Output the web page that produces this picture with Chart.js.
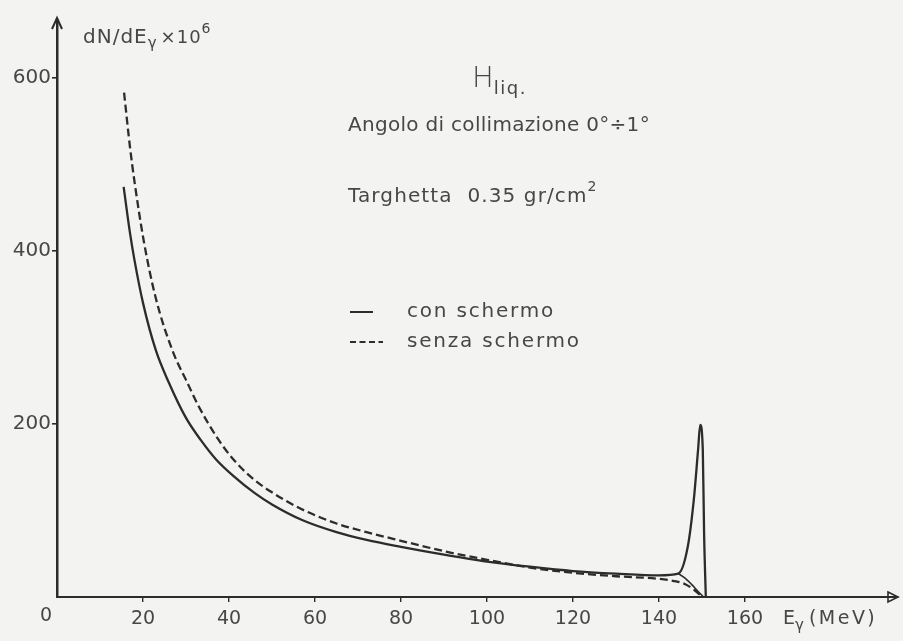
<!DOCTYPE html>
<html>
<head>
<meta charset="utf-8">
<script src="https://cdn.jsdelivr.net/npm/chart.js@4.4.1/dist/chart.umd.min.js"></script>
<style>
  html, body { margin: 0; padding: 0; background: #f3f3f1; }
  #wrap { width: 903px; height: 641px; position: relative; }
</style>
</head>
<body>
<div id="wrap"><canvas id="c" width="903" height="641"></canvas></div>
<script>
// Photon spectrum, liquid hydrogen target: dN/dE (x10^6) vs E (MeV)
const xTicks = [20, 40, 60, 80, 100, 120, 140, 160];
const yTicks = [200, 400, 600];

// "con schermo" (with shield) – solid curve, ends in the peak near 150 MeV
const conE = [15.5, 17, 18, 20, 23, 26, 30, 33.5, 37, 41, 46, 50, 57, 65, 72, 80, 90, 100, 110, 120, 130, 140, 144.5, 146.7, 148.1, 149.1, 149.6, 150.2, 150.5, 150.9];
const conN = [474, 420, 390, 340, 285, 248, 207, 181, 159, 140, 120, 107, 89, 75, 66, 58, 49, 41, 35, 30, 27, 25, 27, 58, 112, 170, 199, 170, 74, 0];

// continuation of the solid curve below the peak, down to the end point
const conTailE = [144.5, 146, 147.7, 149, 150.4];
const conTailN = [27, 22, 14, 7, 0];

// "senza schermo" (without shield) – dashed curve
const senzaE = [15.6, 17, 18, 20.2, 23, 27, 30, 33, 37.4, 41.2, 46, 50, 56.7, 65, 72, 80, 90, 100, 110, 120, 130, 140, 144, 146, 148, 149.2, 150.2];
const senzaN = [583, 519, 481, 411, 345, 283, 251, 220, 183, 158, 135, 121, 102, 85, 75, 65, 53, 43, 34, 28, 24, 21, 18, 15, 9, 4, 0];

const ink = '#2c2c2c';
const textInk = '#474747';
const FONT = '"DejaVu Sans", sans-serif';

const pts = (xs, ys) => xs.map((x, i) => ({ x: x, y: ys[i] }));

// draws a sequence of text runs (for sub/superscripts), left to right
function drawRuns(ctx, x, y, runs) {
  let cx = x;
  runs.forEach(r => {
    ctx.font = (r.weight || 'normal') + ' ' + r.size + 'px ' + FONT;
    ctx.letterSpacing = (r.ls || 0) + 'px';
    ctx.fillText(r.t, cx, y + (r.dy || 0));
    cx += ctx.measureText(r.t).width + (r.gap || 0);
  });
  ctx.letterSpacing = '0px';
}

const annotations = {
  id: 'annotations',
  afterDraw(chart) {
    const ctx = chart.ctx;
    const xs = chart.scales.x, ys = chart.scales.y;
    const x0 = xs.getPixelForValue(0), y0 = ys.getPixelForValue(0);
    const top = chart.chartArea.top, right = chart.chartArea.right;
    ctx.save();
    ctx.strokeStyle = ink;
    ctx.fillStyle = textInk;

    // arrow on the vertical axis
    ctx.lineWidth = 2;
    ctx.beginPath();
    ctx.moveTo(x0 - 5, top + 9);
    ctx.lineTo(x0, top - 2);
    ctx.lineTo(x0 + 5, top + 9);
    ctx.stroke();

    // open arrow head on the horizontal axis
    ctx.lineWidth = 1.6;
    ctx.beginPath();
    ctx.moveTo(right - 10, y0 - 5);
    ctx.lineTo(right, y0);
    ctx.lineTo(right - 10, y0 + 5);
    ctx.closePath();
    ctx.stroke();

    ctx.textBaseline = 'alphabetic';
    ctx.textAlign = 'left';

    // origin label
    drawRuns(ctx, x0 - 17, y0 + 24, [{ t: '0', size: 19 }]);

    // axis titles
    drawRuns(ctx, 83, 43, [
      { t: 'dN/dE', size: 20, ls: 1 },
      { t: 'γ', size: 15, dy: 5, gap: 4 },
      { t: '×10', size: 18, ls: 1 },
      { t: '6', size: 14, dy: -10 }
    ]);
    drawRuns(ctx, 783, 624, [
      { t: 'E', size: 19 },
      { t: 'γ', size: 15, dy: 6, gap: 5 },
      { t: '(MeV)', size: 19, ls: 2.5 }
    ]);

    // title and run conditions
    drawRuns(ctx, 472, 87, [
      { t: 'H', size: 29, weight: '200' },
      { t: 'liq.', size: 18, dy: 7, ls: 1.5 }
    ]);
    drawRuns(ctx, 348, 131, [{ t: 'Angolo di collimazione 0°÷1°', size: 20, ls: 0.3 }]);
    drawRuns(ctx, 348, 202, [
      { t: 'Targhetta  0.35 gr/cm', size: 20, ls: 1.1 },
      { t: '2', size: 14, dy: -11 }
    ]);

    // legend
    ctx.lineWidth = 2;
    ctx.beginPath();
    ctx.moveTo(350, 312); ctx.lineTo(373, 312);
    ctx.stroke();
    ctx.setLineDash([6, 3.5]);
    ctx.beginPath();
    ctx.moveTo(350, 342); ctx.lineTo(383, 342);
    ctx.stroke();
    ctx.setLineDash([]);
    ctx.textBaseline = 'middle';
    drawRuns(ctx, 407, 312, [{ t: 'con schermo', size: 20, ls: 1.8 }]);
    drawRuns(ctx, 407, 342, [{ t: 'senza schermo', size: 20, ls: 1.8 }]);

    ctx.restore();
  }
};

new Chart(document.getElementById('c'), {
  type: 'line',
  data: {
    datasets: [
      {
        label: 'con schermo',
        data: pts(conE, conN),
        borderColor: ink,
        borderWidth: 2.3,
        pointRadius: 0,
        cubicInterpolationMode: 'monotone',
        fill: false
      },
      {
        label: 'con schermo (coda)',
        data: pts(conTailE, conTailN),
        borderColor: ink,
        borderWidth: 1.6,
        pointRadius: 0,
        cubicInterpolationMode: 'monotone',
        fill: false
      },
      {
        label: 'senza schermo',
        data: pts(senzaE, senzaN),
        borderColor: ink,
        borderWidth: 2.3,
        borderDash: [8, 4],
        pointRadius: 0,
        cubicInterpolationMode: 'monotone',
        fill: false
      }
    ]
  },
  options: {
    responsive: false,
    animation: false,
    layout: { padding: { left: 0, top: 20, right: 5, bottom: 0 } },
    plugins: { legend: { display: false }, tooltip: { enabled: false } },
    scales: {
      x: {
        type: 'linear',
        min: 0,
        max: 195.6,
        afterFit: s => { s.height = 44; },
        afterBuildTicks: s => { s.ticks = xTicks.map(v => ({ value: v })); },
        ticks: {
          font: { family: FONT, size: 19 },
          color: textInk,
          padding: 6,
          maxRotation: 0,
          autoSkip: false
        },
        grid: { drawOnChartArea: false, tickLength: 5, color: ink, lineWidth: 1.4 },
        border: { display: true, color: ink, width: 2 }
      },
      y: {
        type: 'linear',
        min: 0,
        max: 667,
        afterFit: s => { s.width = 57; },
        afterBuildTicks: s => { s.ticks = yTicks.map(v => ({ value: v })); },
        ticks: {
          font: { family: FONT, size: 20 },
          color: textInk,
          padding: 1
        },
        grid: { drawOnChartArea: false, tickLength: 5, color: ink, lineWidth: 1.6 },
        border: { display: true, color: ink, width: 2.5 }
      }
    }
  },
  plugins: [annotations]
});
</script>
</body>
</html>
